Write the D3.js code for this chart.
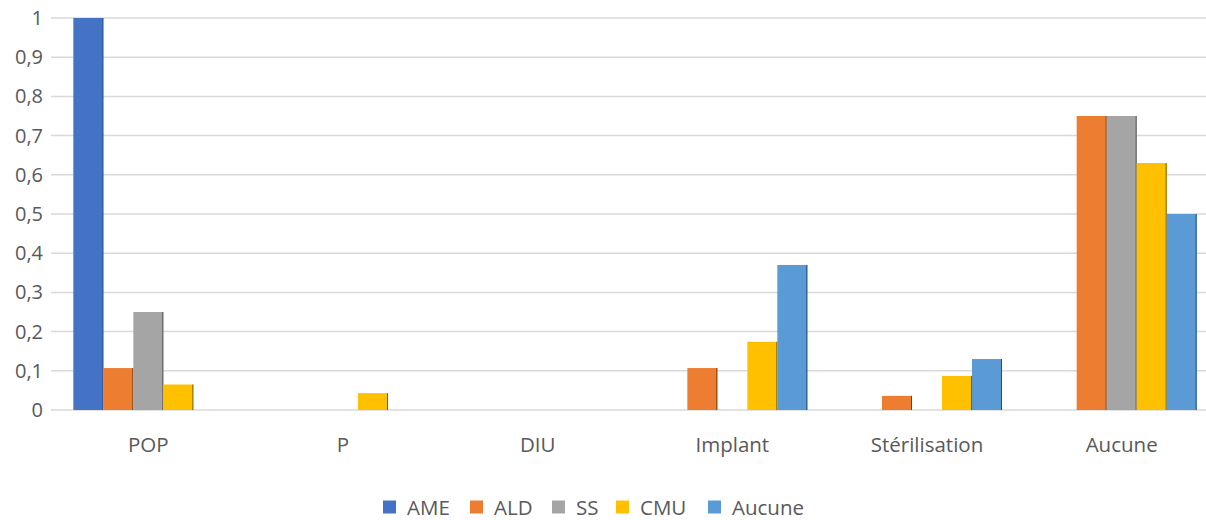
<!DOCTYPE html>
<html>
<head>
<meta charset="utf-8">
<script src="https://cdn.jsdelivr.net/npm/d3@7"></script>
<style>
  body { margin: 0; background: #fff; }
  text { font-family: "Open Sans", "Noto Sans", sans-serif; fill: #595959; }
</style>
</head>
<body>
<script>
// categories and series
var categories = ["POP", "P", "DIU", "Implant", "Stérilisation", "Aucune"];
var seriesNames = ["AME", "ALD", "SS", "CMU", "Aucune"];
var colors = ["#4472C4", "#ED7D31", "#A5A5A5", "#FFC000", "#5B9BD5"];
var edgeColors = ["#2f5597", "#843c0c", "#595959", "#7f6000", "#1f4e79"];

// values per series, one per category
var AME    = [1, 0, 0, 0, 0, 0];
var ALD    = [0.107, 0, 0, 0.107, 0.036, 0.75];
var SS     = [0.25, 0, 0, 0, 0, 0.75];
var CMU    = [0.065, 0.043, 0, 0.174, 0.087, 0.63];
var Aucune = [0, 0, 0, 0.37, 0.13, 0.5];
var seriesValues = [AME, ALD, SS, CMU, Aucune];

var yTicks = [0, 0.1, 0.2, 0.3, 0.4, 0.5, 0.6, 0.7, 0.8, 0.9, 1];

var width = 1206, height = 520;
var plotLeft = 51, plotRight = 1219, plotTop = 18, plotBottom = 410;

var svg = d3.select("body").append("svg")
    .attr("width", width)
    .attr("height", height);

var x0 = d3.scaleBand()
    .domain(categories)
    .range([plotLeft, plotRight])
    .paddingInner(0.2295)
    .paddingOuter(0.2295 / 2);

var x1 = d3.scaleBand()
    .domain(seriesNames)
    .range([0, x0.bandwidth()]);

var y = d3.scaleLinear().domain([0, 1]).range([plotBottom, plotTop]);

// gridlines
svg.append("g")
    .selectAll("line")
    .data(yTicks)
    .enter().append("line")
    .attr("x1", plotLeft)
    .attr("x2", plotRight)
    .attr("y1", function(d) { return y(d); })
    .attr("y2", function(d) { return y(d); })
    .attr("stroke", "#d9d9d9")
    .attr("stroke-width", 1.5);

// y tick labels
svg.append("g")
    .selectAll("text")
    .data(yTicks)
    .enter().append("text")
    .attr("x", 43)
    .attr("y", function(d) { return y(d) + 7; })
    .attr("text-anchor", "end")
    .style("font-size", "20px")
    .text(function(d) { return String(d).replace(".", ","); });

// bars
var rows = [];
categories.forEach(function(c, i) {
  seriesNames.forEach(function(s, j) {
    rows.push({cat: c, ser: s, idx: j, value: seriesValues[j][i]});
  });
});
rows = rows.filter(function(d) { return d.value > 0; });

var bars = svg.append("g").selectAll("g")
    .data(rows)
    .enter().append("g");

bars.append("rect")
    .attr("x", function(d) { return x0(d.cat) + x1(d.ser); })
    .attr("y", function(d) { return y(d.value); })
    .attr("width", x1.bandwidth())
    .attr("height", function(d) { return y(0) - y(d.value); })
    .attr("fill", function(d) { return colors[d.idx]; });

// thin dark right edge
bars.append("line")
    .attr("x1", function(d) { return x0(d.cat) + x1(d.ser) + x1.bandwidth() - 0.5; })
    .attr("x2", function(d) { return x0(d.cat) + x1(d.ser) + x1.bandwidth() - 0.5; })
    .attr("y1", function(d) { return y(d.value); })
    .attr("y2", y(0))
    .attr("stroke", function(d) { return edgeColors[d.idx]; })
    .attr("stroke-width", 1);

// category labels
svg.append("g")
    .selectAll("text")
    .data(categories)
    .enter().append("text")
    .attr("x", function(d) { return x0(d) + x0.bandwidth() / 2; })
    .attr("y", 452)
    .attr("text-anchor", "middle")
    .style("font-size", "20.5px")
    .text(function(d) { return d; });

// legend
var legendX = [383, 470, 552, 616, 708];
var legend = svg.append("g").selectAll("g")
    .data(seriesNames)
    .enter().append("g")
    .attr("transform", function(d, i) { return "translate(" + legendX[i] + ",507)"; });

legend.append("rect")
    .attr("x", 0)
    .attr("y", -6.5)
    .attr("width", 13)
    .attr("height", 13)
    .attr("fill", function(d, i) { return colors[i]; });

legend.append("text")
    .attr("x", 24)
    .attr("y", 7.5)
    .style("font-size", "20.5px")
    .text(function(d) { return d; });
</script>
</body>
</html>
